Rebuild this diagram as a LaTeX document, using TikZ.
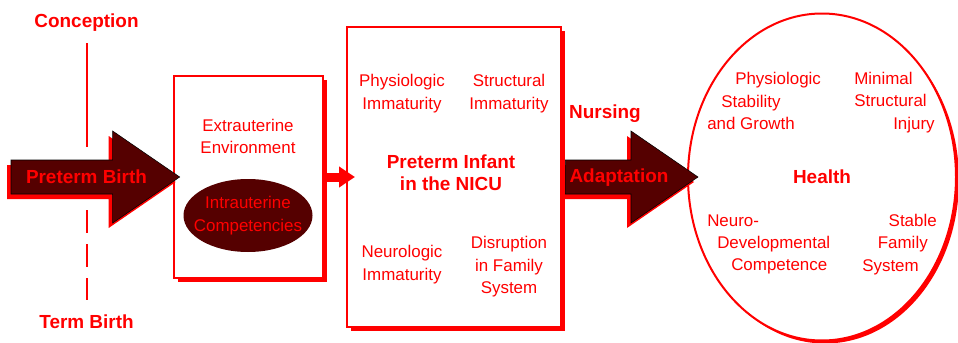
\documentclass[tikz,border=0pt]{standalone}
\usepackage{fontspec}
\setmainfont{Liberation Sans}
\usetikzlibrary{arrows.meta,shapes.geometric}
\definecolor{maroonfill}{RGB}{85,0,0}

\tikzset{
  txt/.style={text=red, inner sep=0pt, align=center, font=\fontsize{12.7}{16.8}\selectfont},
  boldtxt/.style={text=red, inner sep=0pt, align=center, font=\bfseries\fontsize{14.2}{16.5}\selectfont},
  panel/.style={draw=red, line width=1.5pt, fill=white,
    preaction={fill=red, transform canvas={shift={(4,4)}}}},
  timeline/.style={red, line width=1.5pt},
  smallarrow/.style={red, line width=6.75pt, -{Triangle[length=12pt,width=15pt]}},
  fatarrow/.style={fill=maroonfill,
    preaction={fill=red, transform canvas={shift={(-4,5)}}},
    to path={([shift={(0,-17)}]\tikztostart) -- ([shift={(-67,-17)}]\tikztotarget)
      -- ([shift={(-67,-46)}]\tikztotarget) -- (\tikztotarget)
      -- ([shift={(-67,46)}]\tikztotarget) -- ([shift={(-67,17)}]\tikztotarget)
      -- ([shift={(0,17)}]\tikztostart) -- cycle}}
}

\begin{document}
\begin{tikzpicture}[x=0.75pt,y=-0.75pt]
  \useasboundingbox (0,0) rectangle (958,343);

  % time line
  \node[boldtxt] (conception) at (86.5,23) {Conception};
  \node[boldtxt] (termbirth) at (86.5,321.5) {Term Birth};
  \coordinate (gapTop) at (86.5,147);
  \coordinate (gapBot) at (86.5,210);
  \draw[timeline, shorten <=8.25pt] (conception.south) -- (gapTop);
  \draw[timeline, dash pattern=on 17.25pt off 8.25pt, shorten >=11pt] (gapBot) -- (termbirth.north);

  % boxes
  \node[panel, minimum width=111.75pt, minimum height=151.5pt] (box1) at (248.5,177) {};
  \node[panel, minimum width=160.5pt, minimum height=225pt] (box2) at (454,177) {};
  \node[ellipse, draw=red, line width=1.5pt, fill=white, text=red,
    font=\bfseries\fontsize{14.2}{16.5}\selectfont,
    preaction={fill=red, transform canvas={shift={(3,3)}}},
    minimum width=201pt, minimum height=245.25pt] (health) at (822,177) {Health};

  \node[txt] (extra) at (248,136.5) {Extrauterine\\Environment};
  \node[txt, ellipse, fill=maroonfill, inner xsep=-8pt, inner ysep=1pt,
    minimum width=96.75pt, minimum height=54.75pt] (intra) at (248,215.5) {Intrauterine\\Competencies};

  \node[txt] (physImm) at (402,93.5) {Physiologic\\Immaturity};
  \node[txt] (strucImm) at (509,93.5) {Structural\\Immaturity};
  \node[boldtxt] (infant) at (451,173) {Preterm Infant\\in the NICU};
  \node[txt] (neuroImm) at (402,264.5) {Neurologic\\Immaturity};
  \node[txt] (disrupt) at (509,267) {Disruption\\in Family\\System};

  \node[txt, align=left, anchor=west] (physStab) at (707,101)
    {\hspace*{21pt}Physiologic\\\hspace*{10.5pt}Stability\\and Growth};
  \node[txt, align=left, anchor=west] (minStruct) at (854,102.5)
    {Minimal\\Structural\\\hspace*{29.25pt}Injury};
  \node[txt, align=left, anchor=west] (neuroDev) at (707,244.5)
    {Neuro-\\\hspace*{7.5pt}Developmental\\\hspace*{18pt}Competence};
  \node[txt, align=right, anchor=east] (stable) at (937,244.5)
    {Stable\\Family\kern6.75pt\\System\kern13.5pt};

  % arrows
  \coordinate (pbTail) at (11,177);
  \draw[fatarrow] (pbTail) to ([xshift=5pt]box1.west);
  \node[boldtxt] (pbLabel) at (86.5,177) {Preterm Birth};
  \draw[smallarrow] ([xshift=2.5pt]box1.east) -- ([xshift=6.75pt]box2.west);
  \draw[fatarrow] ([xshift=2.5pt]box2.east) to ([xshift=8.25pt]health.west);
  \node[boldtxt] (adapt) at (619,178) {Adaptation};
  \node[boldtxt] (nursing) at (605,114) {Nursing};
\end{tikzpicture}
\end{document}
